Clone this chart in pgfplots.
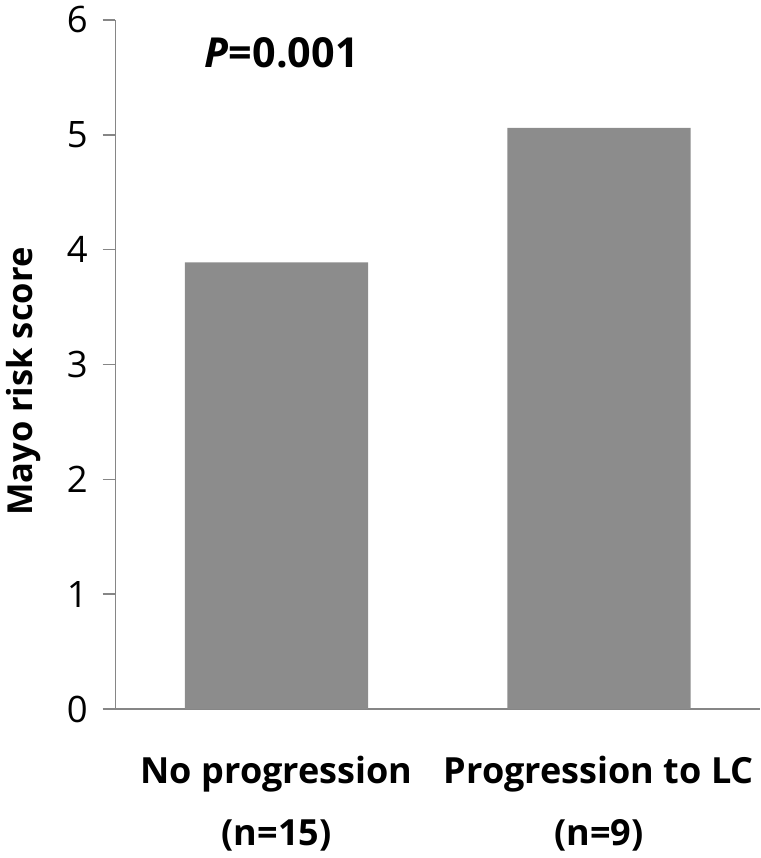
\documentclass[border=0pt]{standalone}
\usepackage{pgfplots}
\pgfplotsset{compat=1.18}
\usepackage{fontspec}
\setmainfont{Open Sans}
\definecolor{bargray}{RGB}{140,140,140}
\definecolor{axisgray}{RGB}{134,134,134}
\begin{document}
\begin{tikzpicture}
\begin{axis}[
  scale only axis,
  width=327.5pt, height=350pt,
  ybar, bar width=0.568,
  xmin=-0.5, xmax=1.5,
  ymin=0, ymax=6,
  ytick={0,1,2,3,4,5,6},
  xtick=data,
  xticklabels={{No progression\\(n=15)},{Progression to LC\\(n=9)}},
  axis x line*=bottom, axis y line*=left,
  axis line style={draw=axisgray, line width=0.8pt},
  major tick length=6.5pt, tick align=outside,
  ytick style={draw=axisgray, line width=0.8pt},
  xtick style={draw=none},
  /pgf/number format/assume math mode=true,
  yticklabel style={font=\fontsize{18.5}{20}\selectfont, xshift=-4pt},
  xticklabel style={font=\bfseries\fontsize{18.3}{31.5}\selectfont, align=center, yshift=-14pt},
  ylabel={Mayo risk score},
  ylabel style={font=\bfseries\fontsize{17.5}{20}\selectfont, at={(axis description cs:-0.142,0.475)}, anchor=center},
  clip=false,
]
\addplot[fill=bargray, draw=none] coordinates {(0,3.89) (1,5.06)};
\node[font=\bfseries\fontsize{21}{24}\selectfont] at (axis cs:0.016,5.71) {\textit{P}=0.001};
\end{axis}
\end{tikzpicture}
\end{document}
